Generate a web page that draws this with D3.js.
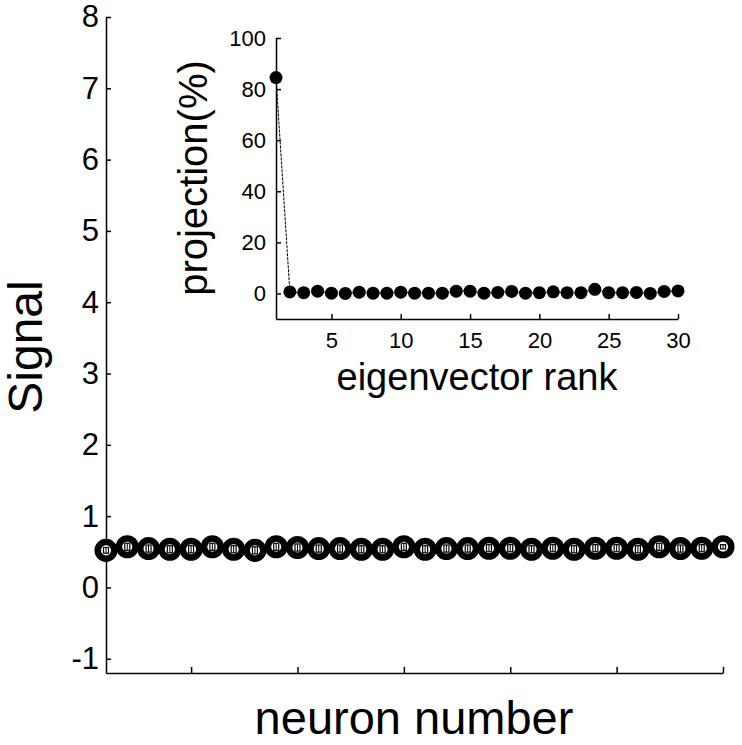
<!DOCTYPE html>
<html>
<head>
<meta charset="utf-8">
<script src="https://cdn.jsdelivr.net/npm/d3@7/dist/d3.min.js"></script>
<style>
  body { margin: 0; background: #fff; }
  svg { font-family: Arial, "Liberation Sans", sans-serif; }
  .axis path, .axis line { stroke: #000; stroke-width: 1.5; }
  .axis text { fill: #000; }
</style>
</head>
<body>
<svg id="svg" width="742" height="745"></svg>
<script>
// main panel: signal per neuron
const neurons = d3.range(1, 31)
const signal = [0.52, 0.57, 0.545, 0.535, 0.535, 0.57, 0.535, 0.52, 0.57, 0.56,
    0.545, 0.545, 0.535, 0.535, 0.57, 0.535, 0.545, 0.545, 0.55, 0.55,
    0.535, 0.55, 0.535, 0.55, 0.55, 0.535, 0.57, 0.545, 0.55, 0.57]
const signalErr = [0.04, 0.05, 0.05, 0.05, 0.05, 0.05, 0.05, 0.05, 0.05, 0.05,
    0.05, 0.05, 0.05, 0.05, 0.05, 0.05, 0.05, 0.05, 0.05, 0.05,
    0.05, 0.05, 0.05, 0.05, 0.05, 0.05, 0.05, 0.05, 0.05, 0.03]
const signalTicks = [-1, 0, 1, 2, 3, 4, 5, 6, 7, 8]
const neuronTicks = [5, 10, 15, 20, 25, 30]

// inset: projection on eigenvectors
const ranks = d3.range(1, 31)
const projection = [84.5, 0.6, 0.3, 0.9, 0.1, 0, 0.5, 0.1, 0.1, 0.5,
    0.1, 0.1, 0.1, 0.9, 0.9, 0.1, 0.4, 0.8, 0.1, 0.3,
    0.65, 0.3, 0.3, 1.6, 0.3, 0.3, 0.4, 0, 0.8, 1.0]
const projTicks = [0, 20, 40, 60, 80, 100]
const rankTicks = [5, 10, 15, 20, 25, 30]

const svg = d3.select('#svg')
const plain = d => String(d) // keep a plain hyphen for negatives

// ---- main chart ----
const x = d3.scaleLinear().domain([1, 30]).range([106, 723])
const y = d3.scaleLinear().domain([-1.2, 8]).range([673, 17])

svg.append('g')
    .attr('class', 'axis')
    .attr('transform', 'translate(106,0)')
    .call(d3.axisLeft(y).tickValues(signalTicks).tickFormat(plain)
        .tickSizeInner(-5).tickSizeOuter(0).tickPadding(7))
    .call(g => g.selectAll('text').attr('font-size', 31))

svg.append('g')
    .attr('class', 'axis')
    .attr('transform', 'translate(0,673)')
    .call(d3.axisBottom(x).tickValues(neuronTicks).tickFormat('').tickSizeInner(-6).tickSizeOuter(0))

svg.append('text').text('Signal')
    .attr('font-size', 48)
    .attr('text-anchor', 'middle')
    .attr('transform', 'translate(42,347) rotate(-90)')

svg.append('text').text('neuron number')
    .attr('font-size', 47)
    .attr('text-anchor', 'middle')
    .attr('x', 414)
    .attr('y', 734)

const pts = svg.append('g')
neurons.forEach((n, i) => {
    pts.append('circle')
        .attr('cx', x(n))
        .attr('cy', y(signal[i]))
        .attr('r', 8.3)
        .attr('fill', '#fff')
        .attr('stroke', '#000')
        .attr('stroke-width', 6.5)
})
// small error bars inside the rings
neurons.forEach((n, i) => {
    const cx = x(n)
    const y0 = y(signal[i] - signalErr[i])
    const y1 = y(signal[i] + signalErr[i])
    pts.append('rect')
        .attr('x', cx - 2.5)
        .attr('y', y1)
        .attr('width', 5)
        .attr('height', y0 - y1)
        .attr('fill', 'none')
        .attr('stroke', '#000')
        .attr('stroke-width', 1.2)
    pts.append('line')
        .attr('x1', cx).attr('x2', cx)
        .attr('y1', y1).attr('y2', y0)
        .attr('stroke', '#000')
        .attr('stroke-width', 1)
})

// ---- inset ----
const ix = d3.scaleLinear().domain([1, 30]).range([276, 678])
const iy = d3.scaleLinear().domain([-10, 100]).range([319, 38])

svg.append('g')
    .attr('class', 'axis')
    .attr('transform', 'translate(276,0)')
    .call(d3.axisLeft(iy).tickValues(projTicks).tickSizeInner(-5).tickSizeOuter(0).tickPadding(10))
    .call(g => g.selectAll('text').attr('font-size', 22))

svg.append('g')
    .attr('class', 'axis')
    .attr('transform', 'translate(0,319)')
    .call(d3.axisBottom(ix).tickValues(rankTicks).tickSizeInner(-5).tickSizeOuter(0).tickPadding(13))
    .call(g => g.selectAll('text').attr('font-size', 22))

svg.append('text').text('projection(%)')
    .attr('font-size', 40)
    .attr('text-anchor', 'middle')
    .attr('transform', 'translate(207,178) rotate(-90)')

svg.append('text').text('eigenvector rank')
    .attr('font-size', 38)
    .attr('text-anchor', 'middle')
    .attr('x', 477)
    .attr('y', 390)

const line = d3.line()
    .x((d, i) => ix(ranks[i]))
    .y(d => iy(d))

svg.append('path')
    .datum(projection)
    .attr('d', line)
    .attr('fill', 'none')
    .attr('stroke', '#000')
    .attr('stroke-width', 1)
    .attr('stroke-dasharray', '3,1')

projection.forEach((v, i) => {
    svg.append('circle')
        .attr('cx', ix(ranks[i]))
        .attr('cy', iy(v))
        .attr('r', 6.5)
        .attr('fill', '#000')
})
</script>
</body>
</html>
